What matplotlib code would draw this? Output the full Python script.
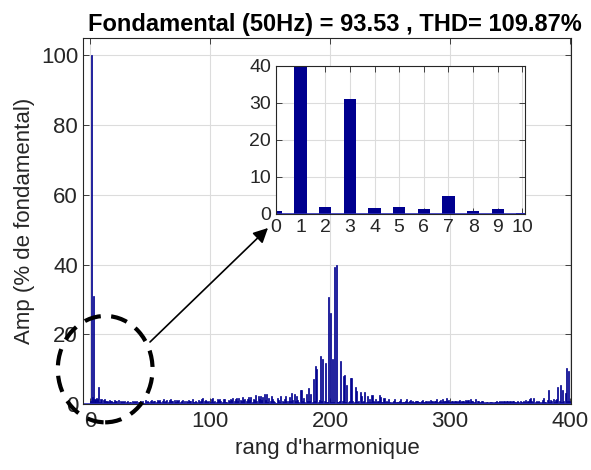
import matplotlib.pyplot as plt
from matplotlib.patches import Ellipse

plt.rcParams['font.family'] = ['Liberation Sans', 'DejaVu Sans']

# harmonic amplitudes (% of fundamental), rank 0..400
amp = [
    0.9, 100, 1.9, 31, 1.5, 1.8, 1.3, 4.8, 0.7, 1.3,
    0.3, 1.2, 1.4, 0.9, 1.0, 0.6, 1.1, 0.9, 1.0, 0.5,
    1.1, 0.8, 1.0, 0.4, 1.1, 0.9, 0.6, 1.0, 0.5, 0.8,
    0.6, 0.9, 0.4, 0.7, 0.6, 1.0, 0.5, 0.8, 0.6, 0.9,
    0.5, 0.7, 1.0, 0.6, 0.9, 0.4, 1.1, 0.7, 1.0, 0.6,
    0.8, 1.2, 0.6, 0.9, 1.0, 0.5, 1.2, 0.8, 1.1, 0.7,
    0.9, 1.3, 0.6, 1.0, 1.2, 0.7, 1.1, 1.3, 0.8, 1.0,
    1.2, 0.6, 1.1, 0.9, 1.2, 0.7, 1.0, 1.1, 0.4, 1.0,
    0.9, 0.5, 1.2, 0.8, 1.0, 1.4, 0.6, 0.5, 0.8, 0.7,
    1.1, 0.6, 0.9, 1.4, 1.7, 0.8, 1.2, 1.0, 0.6, 0.9,
    0.5, 1.3, 1.7, 0.7, 1.0, 0.6, 1.4, 1.2, 1.4, 0.9,
    0.5, 1.3, 1.4, 0.7, 0.6, 1.2, 0.8, 1.4, 1.1, 1.7,
    0.9, 1.3, 1.7, 0.8, 1.7, 1.1, 0.9, 1.9, 1.2, 1.4,
    0.8, 1.4, 1.9, 1.1, 1.9, 0.7, 1.4, 1.2, 2.7, 1.0,
    2.2, 1.5, 2.4, 1.1, 2.0, 2.8, 1.2, 2.9, 0.5, 1.7,
    1.0, 2.3, 1.4, 0.9, 0.6, 0.2, 1.7, 1.2, 0.5, 2.3,
    1.0, 0.6, 1.5, 2.4, 1.0, 0.8, 2.0, 0.9, 3.2, 1.2,
    2.8, 0.8, 2.3, 1.1, 0.5, 3.9, 3.9, 0.9, 1.7, 0.6,
    3.0, 1.0, 4.6, 0.8, 2.9, 0.6, 7.2, 0.9, 10.9, 10.0,
    0.7, 1.2, 13.8, 0.8, 13.0, 0.9, 11.8, 0.5, 0.6, 30.8,
    26.2, 0.6, 12.9, 0.5, 39.3, 40.0, 0.6, 0.5, 0.9, 12.3,
    0.8, 7.9, 8.3, 0.7, 5.5, 0.6, 1.0, 7.5, 7.5, 0.8,
    0.6, 4.8, 3.8, 0.5, 0.9, 3.5, 2.3, 0.6, 0.8, 3.5,
    0.7, 2.3, 0.5, 1.3, 0.6, 2.6, 0.8, 0.5, 1.3, 0.6,
    0.9, 2.6, 1.9, 0.5, 0.7, 1.6, 0.6, 0.9, 0.5, 1.3,
    0.6, 0.4, 0.7, 0.8, 1.4, 0.6, 0.5, 0.7, 0.9, 1.5,
    0.6, 0.7, 0.5, 0.8, 1.3, 0.6, 0.9, 1.1, 0.7, 0.8,
    0.6, 1.0, 0.8, 0.9, 0.6, 0.7, 0.8, 1.1, 0.6, 0.5,
    0.9, 0.7, 1.0, 0.6, 1.2, 0.8, 0.5, 1.0, 0.9, 1.4,
    0.7, 1.0, 1.2, 0.6, 1.3, 0.9, 1.0, 1.7, 0.8, 1.2,
    0.6, 0.8, 1.0, 0.5, 0.9, 1.0, 0.7, 0.9, 1.1, 0.6,
    1.0, 0.8, 0.7, 1.1, 0.9, 1.2, 0.6, 1.3, 0.9, 1.0,
    0.7, 1.5, 0.4, 0.8, 1.0, 0.6, 0.9, 1.0, 0.5, 0.4,
    0.5, 0.6, 0.3, 0.7, 0.5, 0.6, 0.4, 0.7, 0.6, 0.8,
    0.5, 0.9, 0.7, 0.9, 0.6, 0.9, 0.5, 1.0, 0.8, 0.7,
    0.9, 0.6, 1.0, 0.8, 0.7, 0.5, 1.0, 0.6, 0.4, 0.8,
    0.6, 0.9, 0.5, 1.2, 0.7, 1.0, 1.3, 1.6, 0.8, 0.5,
    1.6, 0.7, 0.9, 0.5, 0.8, 0.6, 0.7, 1.2, 1.6, 0.6,
    0.5, 1.2, 4.0, 0.6, 1.2, 0.9, 1.4, 0.5, 1.1, 1.4,
    5.0, 0.8, 5.5, 0.7, 4.0, 0.9, 3.3, 10.3, 0.8, 9.5,
    1.0,
]
rank = list(range(len(amp)))

# zoomed view: first ten harmonics
zoom_rank = rank[:11]
zoom_amp = amp[:11]

title = "Fondamental (50Hz) = 93.53 , THD= 109.87%"
bar_col = '#00008f'
txt_col = '#262626'


def style(ax, size):
    ax.tick_params(direction='in', top=True, right=True, length=4,
                   labelsize=size, colors=txt_col, width=0.6)
    ax.grid(True, color='#dcdcdc', linewidth=0.8)
    ax.set_axisbelow(True)
    for s in ax.spines.values():
        s.set_color('#262626')
        s.set_linewidth(0.8)


fig = plt.figure(figsize=(5.91, 4.70), dpi=100)

# main spectrum
ax = fig.add_axes([0.1404, 0.1404, 0.826, 0.779])
ax.bar(rank, amp, width=0.9, color=bar_col, edgecolor=bar_col, linewidth=0.5)
ax.axhline(0, color='#3030c0', linewidth=1.2)
ax.set_xlim(-6, 401)
ax.set_ylim(0, 105)
ax.set_xticks([0, 100, 200, 300, 400])
ax.set_yticks([0, 20, 40, 60, 80, 100])
style(ax, 16)
ax.tick_params(axis='x', pad=5)
ax.set_xlabel("rang d'harmonique", fontsize=16, color=txt_col, labelpad=4)
ax.set_ylabel("Amp (% de fondamental)", fontsize=16, color=txt_col, labelpad=4)
ax.set_title(title, fontsize=17, fontweight='bold', pad=5, x=0.516)

# dashed circle round the low harmonics
ax.add_patch(Ellipse((12.5, 10), 79, 30.5, fill=False, edgecolor='black',
                     linewidth=3, linestyle=(0, (4, 2.5)), clip_on=False, zorder=5))

# arrow to the inset
ax.annotate('', xy=(268, 242), xycoords='figure pixels',
            xytext=(150, 128), textcoords='figure pixels',
            arrowprops=dict(arrowstyle='-|>', color='black', lw=1.2,
                            mutation_scale=22, shrinkA=0, shrinkB=0))

# inset with the first harmonics
ins = fig.add_axes([0.467, 0.545, 0.421, 0.315])
ins.set_facecolor('white')
ins.bar(zoom_rank, zoom_amp, width=0.5, color=bar_col, linewidth=0)
ins.axhline(0, color='#3030c0', linewidth=1.2)
ins.set_xlim(0, 10.1)
ins.set_ylim(0, 40)
ins.set_xticks(zoom_rank)
ins.set_yticks([0, 10, 20, 30, 40])
style(ins, 14)

fig.savefig('out.png', dpi=100)
